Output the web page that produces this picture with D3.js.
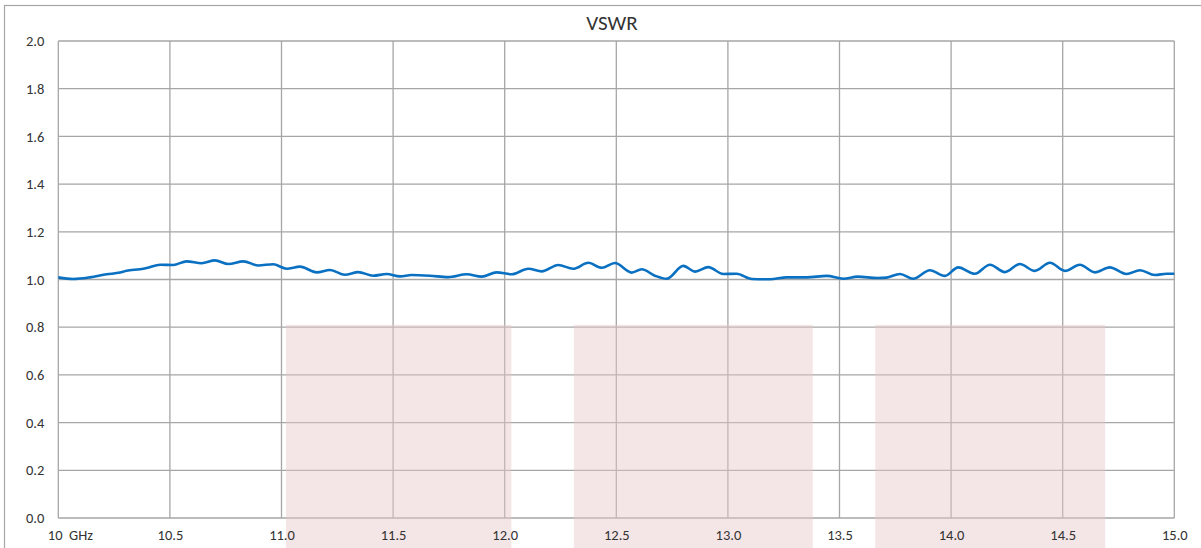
<!DOCTYPE html>
<html>
<head>
<meta charset="utf-8">
<script src="https://cdn.jsdelivr.net/npm/d3@7"></script>
<style>
  html, body { margin: 0; padding: 0; background: #fff; }
  svg { display: block; }
  text { font-family: Carlito, Calibri, Lato, "Open Sans", sans-serif; fill: #333; }
</style>
</head>
<body>
<script>
// ---- data ----
const freq = [10.000,10.067,10.142,10.217,10.276,10.306,10.366,10.396,10.456,10.515,10.575,10.642,10.702,10.762,10.829,10.896,10.963,11.023,11.083,11.158,11.217,
  11.284,11.344,11.411,11.471,11.531,11.583,11.665,11.747,11.830,11.897,11.964,12.031,12.106,12.166,12.240,12.307,12.375,12.435,
  12.494,12.569,12.614,12.673,12.726,12.800,12.853,12.912,12.979,13.039,13.107,13.189,13.264,13.353,13.443,13.517,13.581,13.671,
  13.711,13.771,13.830,13.905,13.972,14.032,14.106,14.174,14.241,14.308,14.375,14.443,14.510,14.577,14.644,14.711,14.786,14.846,14.913,14.966,15.000];
const vswr = [1.009,1.002,1.009,1.022,1.029,1.037,1.043,1.048,1.062,1.061,1.076,1.068,1.080,1.065,1.076,1.059,1.064,1.045,1.054,1.030,1.040,
  1.020,1.031,1.016,1.023,1.013,1.019,1.016,1.010,1.022,1.012,1.030,1.022,1.045,1.034,1.061,1.045,1.070,1.049,
  1.069,1.029,1.043,1.016,1.003,1.057,1.033,1.052,1.023,1.024,1.002,1.001,1.009,1.009,1.015,1.003,1.012,1.006,
  1.008,1.023,1.003,1.039,1.015,1.051,1.024,1.062,1.031,1.065,1.036,1.070,1.036,1.062,1.030,1.051,1.023,1.039,1.019,1.024,1.024];
const xTicks = [10, 10.5, 11, 11.5, 12, 12.5, 13, 13.5, 14, 14.5, 15];
const xTickLabels = ["10  GHz", "10.5", "11.0", "11.5", "12.0", "12.5", "13.0", "13.5", "14.0", "14.5", "15.0"];
const yTicks = [0, 0.2, 0.4, 0.6, 0.8, 1.0, 1.2, 1.4, 1.6, 1.8, 2.0];
const yTickLabels = ["0.0", "0.2", "0.4", "0.6", "0.8", "1.0", "1.2", "1.4", "1.6", "1.8", "2.0"];
const bandStart = [11.02, 12.31, 13.66];
const bandEnd = [12.03, 13.38, 14.69];
const bandTop = 0.81;
const bandBottom = -0.15;
const title = "VSWR";

// ---- chart ----
const W = 1201, H = 548;
const m = { left: 58.3, right: 1174.3, top: 41, bottom: 518 };
const svg = d3.select("body").append("svg").attr("width", W).attr("height", H);

const x = d3.scaleLinear().domain([10, 15]).range([m.left, m.right]);
const y = d3.scaleLinear().domain([0, 2]).range([m.bottom, m.top]);

// outer frame (cropped at right and bottom)
svg.append("rect").attr("x", 4.5).attr("y", 5.5).attr("width", W + 10).attr("height", H + 10)
  .attr("fill", "none").attr("stroke", "#a6a6a6").attr("stroke-width", 1.2);

// gridlines
const grid = svg.append("g").attr("stroke", "#a6a6a6").attr("stroke-width", 1.3);
grid.selectAll("line.h").data(yTicks).join("line").attr("class", "h")
  .attr("x1", m.left).attr("x2", m.right).attr("y1", d => y(d)).attr("y2", d => y(d));
grid.selectAll("line.v").data(xTicks).join("line").attr("class", "v")
  .attr("y1", m.top).attr("y2", m.bottom).attr("x1", d => x(d)).attr("x2", d => x(d));

// bands
svg.append("g").selectAll("rect").data(bandStart).join("rect")
  .attr("x", (d) => x(d))
  .attr("width", (d, i) => x(bandEnd[i]) - x(d))
  .attr("y", y(bandTop))
  .attr("height", y(bandBottom) - y(bandTop))
  .attr("fill", "#e6c5c8").attr("opacity", 0.45);

// axis labels
const yAxis = d3.axisLeft(y).tickValues(yTicks).tickFormat((d, i) => yTickLabels[i]).tickSize(0).tickPadding(14);
const ga = svg.append("g").attr("transform", `translate(${m.left},0)`).call(yAxis);
ga.select(".domain").remove();
ga.selectAll("text").style("font-size", "14.5px").attr("fill", "#333").attr("dy", "0.32em");

const xAxis = d3.axisBottom(x).tickValues(xTicks).tickFormat((d, i) => xTickLabels[i]).tickSize(0).tickPadding(12);
const gx = svg.append("g").attr("transform", `translate(0,${m.bottom})`).call(xAxis);
gx.select(".domain").remove();
gx.selectAll("text").style("font-size", "14.5px").attr("fill", "#333")
  .attr("text-anchor", (d, i) => i === 0 ? "start" : "middle")
  .attr("x", (d, i) => i === 0 ? -11 : 0)
  .style("white-space", "pre").attr("xml:space", "preserve");

// line
const line = d3.line().x((d, i) => x(freq[i])).y(d => y(d)).curve(d3.curveMonotoneX);
svg.append("path").datum(vswr).attr("d", line)
  .attr("fill", "none").attr("stroke", "#0a70c2").attr("stroke-width", 2.6).attr("stroke-linejoin", "round");

// title
svg.append("text").attr("x", 612).attr("y", 30).attr("text-anchor", "middle")
  .style("font-size", "21px").text(title);
</script>
</body>
</html>
